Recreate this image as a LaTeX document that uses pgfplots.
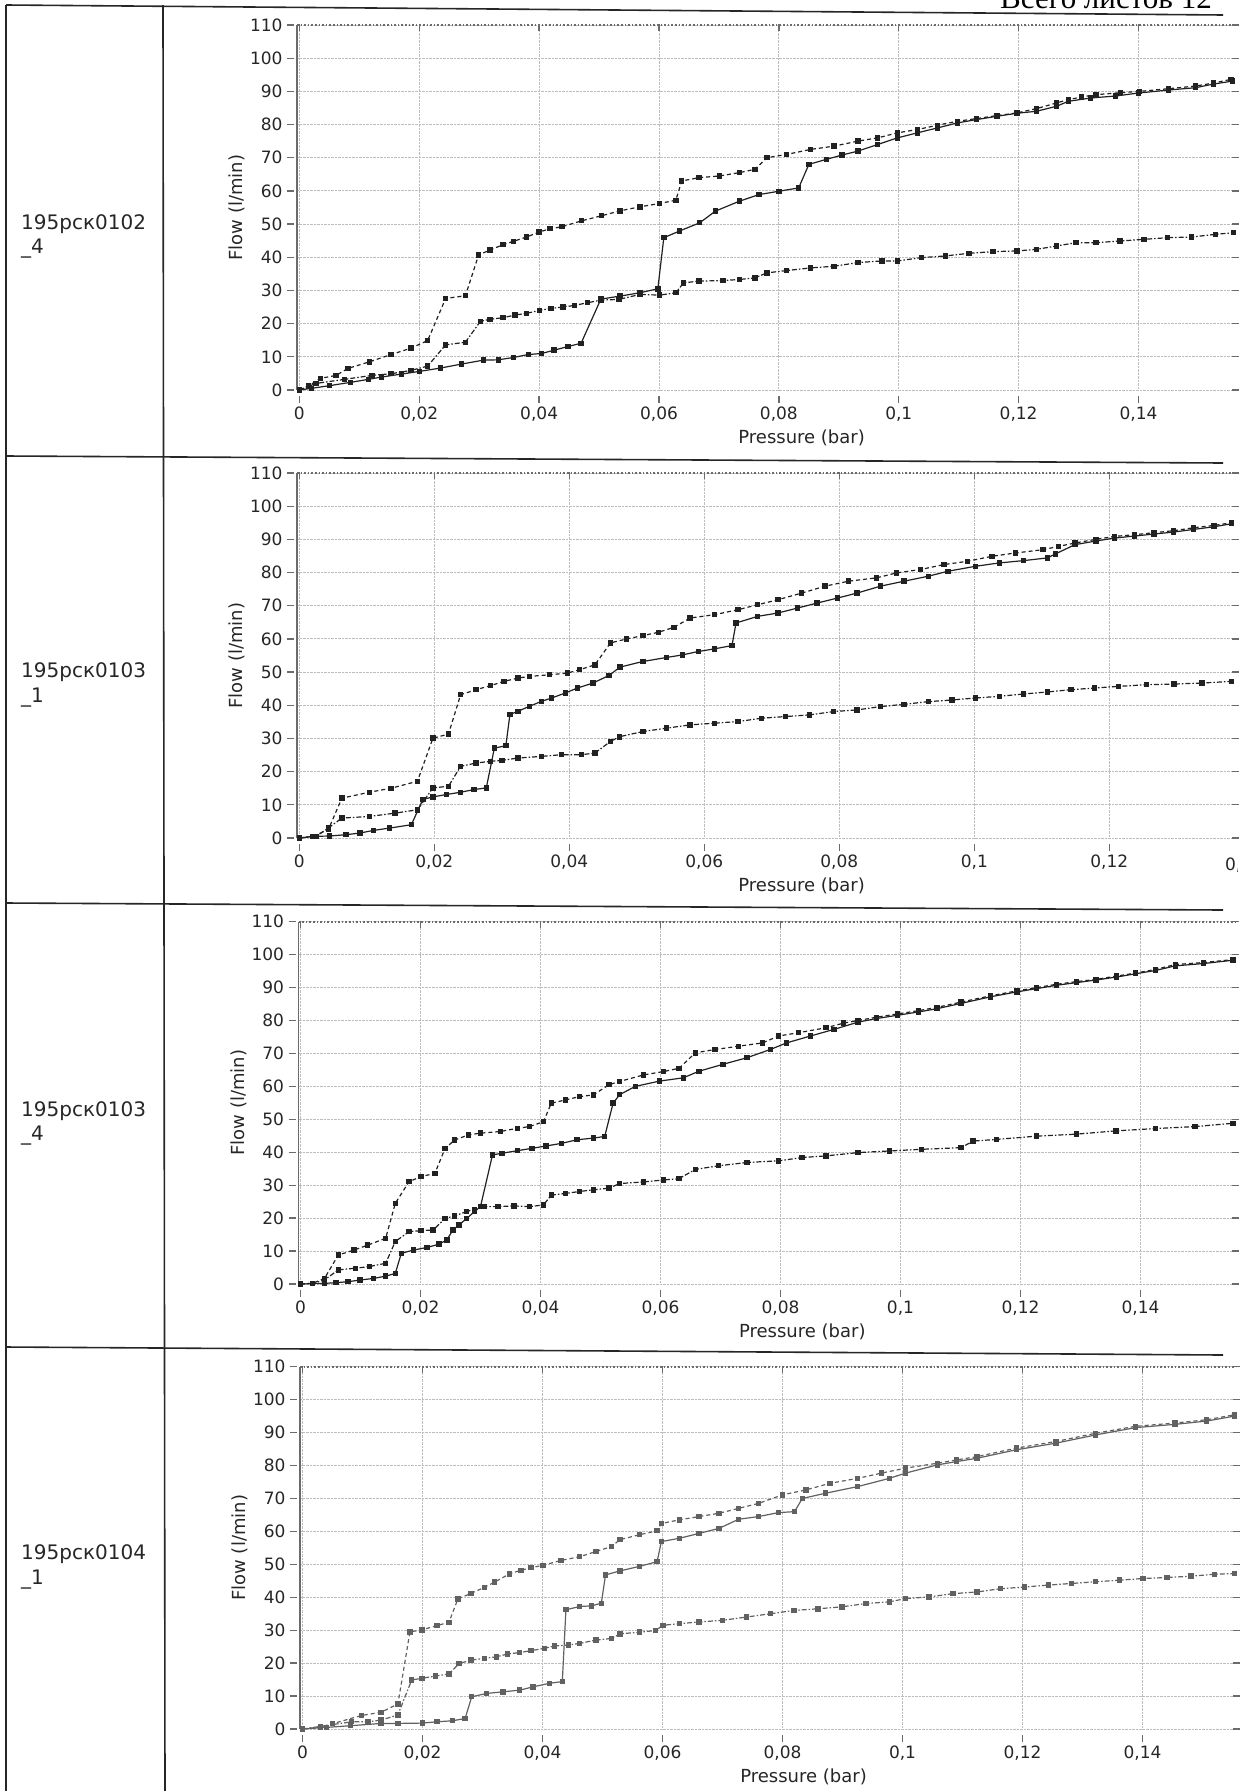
\documentclass[border=0pt]{standalone}
\usepackage{fontspec}
\setmainfont{DejaVu Sans}
\newfontfamily\headfont{Liberation Serif}
\usepackage{pgfplots}
\pgfplotsset{compat=1.18}

\definecolor{ink}{gray}{0.13}
\definecolor{inkpale}{gray}{0.38}
\definecolor{gridc}{gray}{0.74}
\definecolor{framec}{gray}{0.42}

% one style for the four pressure/flow panels
\pgfplotsset{
  flowaxis/.style={
    scale only axis, anchor=south west, clip=false,
    ymin=0, ymax=110, ytick={0,10,...,110},
    xtick={0,0.02,0.04,0.06,0.08,0.1,0.12,0.14},
    xticklabels={0,{0,02},{0,04},{0,06},{0,08},{0,1},{0,12},{0,14}},
    /pgf/number format/assume math mode=true,
    axis line style={draw=none},
    tick align=outside, major tick length=7pt,
    xtick style={draw=framec, line width=1.3pt, yshift=-6pt},
    ytick style={draw=framec, line width=1.3pt, xshift=-3pt},
    grid=major, major grid style={gridc, densely dotted, line width=0.9pt},
    ticklabel style={font=\fontsize{17}{20}\selectfont, text=black!85},
    xticklabel style={yshift=-6pt},
    yticklabel style={xshift=-4pt},
    xlabel={Pressure (bar)}, ylabel={Flow (l/min)},
    every axis x label/.style={at={(rel axis cs:0.538,0)}, anchor=center,
      yshift=-48pt, font=\fontsize{18}{22}\selectfont, text=black!85},
    every axis y label/.style={at={(rel axis cs:0,0.5)}, anchor=center,
      xshift=-60pt, rotate=90, font=\fontsize{18}{22}\selectfont, text=black!85},
  },
  ser/.style={color=#1, line width=1.2pt, mark=square*, mark size=2.1pt,
    mark options={solid, fill=#1}},
  topline/.style={dash pattern=on 4pt off 3pt},
  lowline/.style={dash pattern=on 5pt off 2pt on 1.5pt off 2pt},
}

\begin{document}
\begin{tikzpicture}
\useasboundingbox (0,0) rectangle (1242pt,-1791pt);
\clip (0,0) rectangle (1242pt,-1791pt);

% table frame
\draw[line width=1.6pt, black!85] (6pt,-5pt) -- (1223pt,-15pt);
\draw[line width=1.6pt, black!85] (6pt,-5pt) -- (6pt,-1800pt);
\draw[line width=1.6pt, black!85] (163pt,-5pt) -- (165pt,-1800pt);
\draw[line width=1.6pt, black!85] (6pt,-456pt) -- (1223pt,-463pt);
\draw[line width=1.6pt, black!85] (6pt,-903pt) -- (1223pt,-910pt);
\draw[line width=1.6pt, black!85] (6pt,-1347pt) -- (1223pt,-1355pt);

\node[anchor=base west, font=\headfont\fontsize{31}{36}\selectfont, inner sep=0pt]
  at (1000pt,-8pt) {Всего листов 12};

\begin{scope}[every node/.style={anchor=base west, inner sep=0pt,
    font=\fontsize{20}{24}\selectfont, text=black!85}]
\node at (21pt,-229pt) {195рск0102};   \node at (21pt,-253pt) {\_4};
\node at (21pt,-677pt) {195рск0103};   \node at (21pt,-702pt) {\_1};
\node at (21pt,-1116pt) {195рск0103};  \node at (21pt,-1140pt) {\_4};
\node at (21pt,-1559pt) {195рск0104};  \node at (21pt,-1584pt) {\_1};
\end{scope}

% ---- row 1 : 195pck0102_4
\begin{axis}[flowaxis, at={(297pt,-390pt)}, width=938pt, height=365pt,
  xmin=-0.0004, xmax=0.1561]
\draw[framec, line width=1.3pt] (rel axis cs:0,0) -- (rel axis cs:0,1);
\draw[framec, dotted, line width=1.6pt] (rel axis cs:0,1) -- (rel axis cs:1,1);
\addplot[ser=ink, topline] coordinates {
(0,0) (0.0015,1.2) (0.0035,3.5) (0.0061,4.4) (0.0081,6.5) (0.0117,8.5)
(0.0153,10.7) (0.0186,12.6) (0.0214,14.9) (0.0244,27.6) (0.0277,28.4)
(0.0299,40.7) (0.0318,42.2) (0.034,43.8) (0.0357,44.8) (0.0379,46.1)
(0.04,47.6) (0.0418,48.6) (0.0438,49.2) (0.0471,51) (0.0504,52.5)
(0.0535,54) (0.0568,55.2) (0.0601,56.2) (0.0628,57.2) (0.0638,63)
(0.0667,64) (0.0701,64.5) (0.0734,65.5) (0.076,66.5) (0.078,70)
(0.0813,71) (0.0853,72.5) (0.0892,73.5) (0.0932,75) (0.0965,76)
(0.0998,77.5) (0.1031,78.5) (0.1065,79.8) (0.1098,81) (0.113,81.8)
(0.1164,82.7) (0.1197,83.5) (0.123,84.8) (0.1263,86.5) (0.1283,87.5)
(0.1305,88.3) (0.1329,89) (0.137,89.6) (0.1402,90) (0.145,90.8)
(0.1495,91.6) (0.1525,92.5) (0.1554,93.6)};
\addplot[ser=ink] coordinates {
(0,0) (0.002,0.5) (0.005,1.3) (0.0085,2.3) (0.0115,3.2) (0.0137,3.9)
(0.017,4.8) (0.02,5.6) (0.0235,6.6) (0.027,7.8) (0.0307,9) (0.0332,9.1)
(0.0357,9.8) (0.0382,10.7) (0.0404,11) (0.0425,12) (0.0448,13.1)
(0.047,14.1) (0.0503,27.4) (0.0535,28.3) (0.0568,29.3) (0.0598,30.5)
(0.0608,45.9) (0.0634,47.9) (0.0668,50.4) (0.0694,53.9) (0.0734,56.9)
(0.0767,58.9) (0.08,59.9) (0.0833,60.9) (0.085,68) (0.0879,69.5)
(0.0905,70.8) (0.0932,72) (0.0965,74) (0.0998,76) (0.1031,77.5)
(0.1065,79) (0.1098,80.5) (0.113,81.5) (0.1164,82.5) (0.1197,83.4)
(0.123,84) (0.1263,85.5) (0.1283,87) (0.132,88) (0.1362,88.6) (0.14,89.5)
(0.145,90.4) (0.1495,91.1) (0.1525,92.2) (0.1557,93.1)};
\addplot[ser=ink, lowline] coordinates {
(0,0) (0.0028,2) (0.0075,3.2) (0.0121,4.4) (0.0153,4.9) (0.0186,5.9)
(0.0214,7.2) (0.0244,13.6) (0.0277,14.4) (0.0302,20.7) (0.0318,21.3)
(0.034,21.8) (0.036,22.6) (0.0379,23.1) (0.0401,24) (0.042,24.6)
(0.044,25) (0.0459,25.5) (0.0481,26.3) (0.0503,27.1) (0.0533,27.3)
(0.0568,28.8) (0.0601,28.6) (0.0628,29.3) (0.0641,32.3) (0.0667,32.8)
(0.0707,33) (0.0734,33.3) (0.076,33.8) (0.078,35.3) (0.0813,36)
(0.0853,36.8) (0.0892,37.3) (0.0932,38.4) (0.0972,38.9) (0.0998,38.9)
(0.1038,39.9) (0.1078,40.4) (0.1117,41.2) (0.1157,41.7) (0.1197,41.9)
(0.123,42.4) (0.1263,43.4) (0.1296,44.4) (0.1329,44.4) (0.1369,44.9)
(0.1409,45.4) (0.1448,45.9) (0.1488,46.1) (0.1528,46.9) (0.1558,47.4)};
\end{axis}

% ---- row 2 : 195pck0103_1
\begin{axis}[flowaxis, at={(297pt,-838pt)}, width=938pt, height=365pt,
  xmin=-0.00034, xmax=0.13862]
\draw[framec, line width=1.3pt] (rel axis cs:0,0) -- (rel axis cs:0,1);
\draw[framec, dotted, line width=1.6pt] (rel axis cs:0,1) -- (rel axis cs:1,1);
\addplot[ser=ink, topline] coordinates {
(0,0) (0.002,0.5) (0.0043,2.5) (0.0063,12) (0.0104,13.8) (0.0136,15)
(0.0175,17.1) (0.0198,30.1) (0.0221,31.3) (0.0239,43.2) (0.0262,44.7)
(0.0283,45.9) (0.0303,47.2) (0.0324,48.2) (0.0341,48.7) (0.0371,49.2)
(0.0397,49.7) (0.0415,50.7) (0.0438,52.2) (0.0461,58.8) (0.0485,60)
(0.0509,61) (0.0532,62) (0.0555,63.5) (0.0579,66.3) (0.0615,67.3)
(0.065,68.8) (0.0679,70.3) (0.0709,71.8) (0.0744,73.8) (0.0779,75.9)
(0.0814,77.4) (0.0855,78.4) (0.0885,79.9) (0.092,80.9) (0.0955,82.4)
(0.099,83.4) (0.1026,84.9) (0.1061,85.9) (0.1102,86.9) (0.1125,87.9)
(0.1149,88.9) (0.118,90) (0.1208,90.9) (0.1237,91.4) (0.1266,92)
(0.1295,92.6) (0.1325,93.5) (0.1355,94.2) (0.1381,95)};
\addplot[ser=ink] coordinates {
(0,0) (0.002,0.5) (0.0045,0.6) (0.0069,1) (0.009,1.5) (0.011,2.3)
(0.0134,3) (0.0166,4) (0.0183,11.6) (0.0198,12.4) (0.0218,13.1)
(0.0239,13.8) (0.0259,14.6) (0.0277,15.1) (0.0289,27.1) (0.0306,27.8)
(0.0312,37.2) (0.0324,38.2) (0.0341,39.7) (0.0359,41.2) (0.0374,42.2)
(0.0394,43.7) (0.0412,45.2) (0.0435,46.7) (0.0459,49) (0.0475,51.5)
(0.0509,53.2) (0.0544,54.4) (0.0568,55.2) (0.0591,56.2) (0.0615,57)
(0.0641,58) (0.0647,64.8) (0.0679,66.8) (0.0709,67.8) (0.0738,69.3)
(0.0767,70.8) (0.0797,72.3) (0.0826,73.8) (0.0861,75.9) (0.0896,77.4)
(0.0932,78.9) (0.0961,80.4) (0.1002,81.9) (0.1037,82.9) (0.1073,83.6)
(0.1108,84.4) (0.112,85.6) (0.1149,88.4) (0.118,89.5) (0.1208,90.4)
(0.1237,91) (0.1266,91.6) (0.1295,92.2) (0.1325,93) (0.1355,93.8)
(0.1381,94.7)};
\addplot[ser=ink, lowline] coordinates {
(0,0) (0.0025,0.5) (0.0043,3) (0.0063,6) (0.0104,6.5) (0.0142,7.5)
(0.0175,8.5) (0.0198,15.1) (0.0221,15.6) (0.0239,21.6) (0.0262,22.6)
(0.0283,23.1) (0.03,23.4) (0.0324,24.1) (0.0359,24.6) (0.0388,25.1)
(0.0418,25.1) (0.0438,25.6) (0.0461,29.1) (0.0474,30.5) (0.0509,32.1)
(0.0544,33.1) (0.0579,34.1) (0.0615,34.6) (0.065,35.1) (0.0685,36.1)
(0.072,36.6) (0.0756,37.1) (0.0791,38.1) (0.0826,38.6) (0.0861,39.6)
(0.0896,40.3) (0.0932,41.1) (0.0967,41.6) (0.1002,42.2) (0.1037,42.7)
(0.1073,43.4) (0.1108,44) (0.1143,44.7) (0.1178,45.2) (0.1214,45.7)
(0.1255,46.2) (0.1296,46.4) (0.1337,46.7) (0.1381,47.2)};
\end{axis}
% the 0,14 label of this panel is cut by the scan edge
\begin{scope}
\clip (1200pt,-845pt) rectangle (1237pt,-890pt);
\node[font=\fontsize{17}{20}\selectfont, text=black!85] at (1244pt,-865pt) {0,14};
\end{scope}

% ---- row 3 : 195pck0103_4
\begin{axis}[flowaxis, at={(298.5pt,-1284pt)}, width=936.5pt, height=362.3pt,
  xmin=-0.00033, xmax=0.15575]
\draw[framec, line width=1.3pt] (rel axis cs:0,0) -- (rel axis cs:0,1);
\draw[framec, dotted, line width=1.6pt] (rel axis cs:0,1) -- (rel axis cs:1,1);
\addplot[ser=ink, topline] coordinates {
(0,0) (0.002,0.2) (0.004,1.7) (0.0063,8.8) (0.0089,10.3) (0.0112,11.8)
(0.0142,13.9) (0.0158,24.5) (0.0181,31.1) (0.0201,32.6) (0.0224,33.6)
(0.0241,41.2) (0.0257,43.7) (0.028,45.3) (0.03,45.8) (0.0333,46.3)
(0.0362,47.3) (0.0382,47.8) (0.0405,49.3) (0.0418,54.9) (0.0442,55.9)
(0.0465,56.9) (0.0488,57.4) (0.0514,60.5) (0.0532,61.5) (0.0572,63.5)
(0.0605,64.5) (0.0631,65.5) (0.0658,70.2) (0.0691,71.2) (0.073,72.2)
(0.077,73.2) (0.0797,75.3) (0.083,76.3) (0.0876,77.8) (0.0905,79.2)
(0.0929,80) (0.096,81) (0.0995,82) (0.103,83) (0.1061,84) (0.1101,85.6)
(0.115,87.5) (0.1194,89) (0.1227,90) (0.126,91) (0.1293,91.8)
(0.1326,92.5) (0.136,93.5) (0.1392,94.4) (0.1425,95.5) (0.1458,97)
(0.1505,97.6) (0.1554,98.5)};
\addplot[ser=ink] coordinates {
(0,0) (0.004,0.2) (0.0059,0.4) (0.0079,0.7) (0.0099,1.2) (0.0122,1.7)
(0.0142,2.4) (0.0158,3.2) (0.0168,9.3) (0.0188,10.3) (0.0211,11.1)
(0.0231,12.1) (0.0244,13.4) (0.0254,16.4) (0.0264,17.9) (0.0277,19.9)
(0.029,22) (0.03,23.5) (0.032,39.2) (0.0336,39.7) (0.0362,40.5)
(0.0386,41.2) (0.0409,41.9) (0.0435,42.7) (0.0461,43.8) (0.0488,44.3)
(0.0507,44.8) (0.0521,54.9) (0.0532,57.5) (0.0558,60) (0.0598,61.6)
(0.0638,62.6) (0.0664,64.6) (0.0704,66.7) (0.0744,68.7) (0.0783,71.2)
(0.081,73.2) (0.085,75.3) (0.0889,77.3) (0.0929,79.5) (0.096,80.6)
(0.0995,81.6) (0.103,82.6) (0.1061,83.6) (0.1101,85.2) (0.115,87.2)
(0.1194,88.7) (0.1227,89.7) (0.126,90.7) (0.1293,91.5) (0.1326,92.3)
(0.136,93.2) (0.1392,94.2) (0.1425,95.2) (0.1458,96.6) (0.1505,97.3)
(0.1554,98.3)};
\addplot[ser=ink, lowline] coordinates {
(0,0) (0.002,0.2) (0.004,1.2) (0.0063,4.3) (0.0092,4.8) (0.0115,5.3)
(0.0142,6.3) (0.0158,12.9) (0.0181,15.9) (0.0201,16.2) (0.0221,16.4)
(0.0241,19.9) (0.0257,20.7) (0.0277,22) (0.029,22.7) (0.0306,23.5)
(0.0329,23.5) (0.0356,23.7) (0.0382,23.5) (0.0405,24) (0.0418,27)
(0.0442,27.5) (0.0465,28.1) (0.0488,28.6) (0.0514,29.1) (0.0532,30.5)
(0.0572,31) (0.0605,31.6) (0.0631,32) (0.0658,34.8) (0.0697,35.9)
(0.0744,36.9) (0.0797,37.4) (0.0836,38.4) (0.0876,38.9) (0.0929,39.9)
(0.0982,40.4) (0.1035,40.9) (0.1101,41.4) (0.1121,43.4) (0.116,43.9)
(0.1227,44.9) (0.1293,45.5) (0.1359,46.5) (0.1425,47.2) (0.1491,47.8)
(0.1554,48.8)};
\end{axis}

% ---- row 4 : 195pck0104_1
\begin{axis}[flowaxis, at={(300pt,-1729pt)}, width=936pt, height=362.3pt,
  xmin=-0.00042, xmax=0.15558]
\draw[framec, line width=1.3pt] (rel axis cs:0,0) -- (rel axis cs:0,1);
\draw[framec, dotted, line width=1.6pt] (rel axis cs:0,1) -- (rel axis cs:1,1);
\addplot[ser=inkpale, topline] coordinates {
(0,0) (0.003,0.6) (0.005,1.6) (0.0098,4.1) (0.0131,5.1) (0.0159,7.6)
(0.0179,29.5) (0.0199,30.1) (0.0224,31.4) (0.0244,32.4) (0.0259,39.5)
(0.0281,41.2) (0.0303,43) (0.032,44.6) (0.0345,47.1) (0.0364,48.2)
(0.0381,49) (0.0401,49.7) (0.0431,51.2) (0.0462,52.3) (0.0489,53.9)
(0.0515,55.4) (0.0529,57.5) (0.0562,59) (0.0591,60.2) (0.0598,62.4)
(0.0628,63.5) (0.0661,64.5) (0.0694,65.5) (0.0727,67) (0.076,68.5)
(0.08,71.1) (0.0839,72.6) (0.0879,74.6) (0.0925,76.1) (0.0965,77.7)
(0.1005,79.2) (0.1058,80.7) (0.109,81.7) (0.1124,82.7) (0.119,85.3)
(0.1256,87.3) (0.1322,89.8) (0.1388,91.9) (0.1454,92.9) (0.1507,93.9)
(0.1553,95.4)};
\addplot[ser=inkpale] coordinates {
(0,0) (0.004,0.5) (0.008,1) (0.0131,1.7) (0.0159,1.7) (0.02,1.8)
(0.0224,2.2) (0.025,2.5) (0.0271,3.2) (0.0282,9.8) (0.0307,10.8)
(0.0334,11.3) (0.0362,11.8) (0.0384,12.8) (0.0412,13.9) (0.0433,14.4)
(0.0439,36.2) (0.0462,37.2) (0.0482,37.4) (0.0498,38.2) (0.0505,46.8)
(0.0529,48) (0.0562,49.4) (0.0591,50.8) (0.0598,56.9) (0.0628,57.9)
(0.0661,59.4) (0.0694,60.9) (0.0727,63.7) (0.076,64.5) (0.0793,65.7)
(0.082,66) (0.0833,70) (0.0872,71.6) (0.0925,73.6) (0.0978,76.1)
(0.1005,77.7) (0.1058,80.2) (0.109,81.2) (0.1124,82.2) (0.119,84.8)
(0.1256,86.8) (0.1322,89.3) (0.1388,91.5) (0.1454,92.5) (0.1507,93.5)
(0.1553,95)};
\addplot[ser=inkpale, lowline] coordinates {
(0,0) (0.003,0.8) (0.0082,2.2) (0.0109,2.2) (0.0131,2.7) (0.0159,4.3)
(0.0182,14.9) (0.0199,15.4) (0.0222,16.1) (0.0244,16.7) (0.0261,19.9)
(0.0281,20.9) (0.0303,21.5) (0.0323,21.9) (0.0342,22.8) (0.0362,23.2)
(0.0381,23.8) (0.0403,24.5) (0.042,25.2) (0.0443,25.5) (0.0462,26)
(0.0489,27) (0.0515,27.5) (0.0529,28.9) (0.0562,29.4) (0.0588,29.9)
(0.0601,31.5) (0.0628,32) (0.0661,32.5) (0.07,33) (0.074,34) (0.078,35)
(0.0819,36) (0.0859,36.5) (0.0899,37.1) (0.0939,38.1) (0.0978,38.6)
(0.1005,39.6) (0.1044,40.1) (0.1084,41.1) (0.1124,41.6) (0.1163,42.6)
(0.1203,43.1) (0.1243,43.7) (0.1282,44.2) (0.1322,44.7) (0.1362,45.2)
(0.1401,45.7) (0.1441,46) (0.1481,46.4) (0.152,47) (0.1553,47.2)};
\end{axis}
\end{tikzpicture}
\end{document}
